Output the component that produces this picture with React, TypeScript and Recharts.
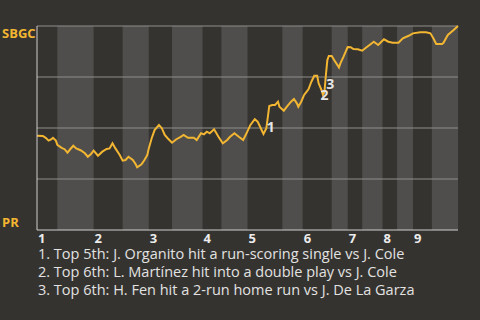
import React from 'react';
import { LineChart, Line, XAxis, YAxis, ReferenceArea, ReferenceLine, ReferenceDot } from 'recharts';

// pitch number in the game and home-side (SBGC) win probability after it
const pitches = [
    0, 4, 6, 8, 10, 11, 13, 14, 17, 19, 21, 23, 25, 27, 30, 33, 35, 37, 39, 42,
    45, 48, 50, 52, 54, 57, 59, 61, 63, 66, 68, 69, 72, 74, 76, 77, 79, 81, 84, 86,
    88, 90, 93, 96, 99, 101, 104, 108, 110, 113, 115, 117, 119, 122, 125, 128, 131, 133, 136, 139,
    142, 144, 147, 150, 152, 154, 156, 158, 160, 162, 164, 166, 167, 170, 172, 175, 177, 179, 180, 182,
    184, 187, 189, 191, 193, 194, 196, 197, 198, 199, 200, 201, 203, 205, 208, 209, 211, 214, 216, 218,
    221, 224, 227, 230, 232, 235, 239, 242, 245, 249, 252, 256, 259, 264, 268, 271, 273, 275, 279, 280,
    283, 287, 290,
];
const winProb = [
    0.462, 0.461, 0.452, 0.438, 0.445, 0.452, 0.438, 0.417, 0.403, 0.396, 0.379, 0.397, 0.413, 0.400, 0.391, 0.376, 0.359, 0.371, 0.389, 0.364,
    0.384, 0.397, 0.400, 0.425, 0.400, 0.368, 0.340, 0.343, 0.359, 0.343, 0.322, 0.307, 0.322, 0.343, 0.368, 0.400, 0.450, 0.490, 0.515, 0.499,
    0.466, 0.450, 0.428, 0.445, 0.457, 0.466, 0.452, 0.452, 0.441, 0.474, 0.469, 0.482, 0.474, 0.494, 0.457, 0.425, 0.441, 0.457, 0.474, 0.457,
    0.441, 0.469, 0.515, 0.543, 0.531, 0.501, 0.471, 0.499, 0.608, 0.613, 0.613, 0.629, 0.604, 0.585, 0.604, 0.629, 0.642, 0.621, 0.604, 0.629,
    0.662, 0.690, 0.727, 0.756, 0.756, 0.719, 0.686, 0.662, 0.676, 0.760, 0.833, 0.853, 0.853, 0.830, 0.797, 0.817, 0.847, 0.897, 0.896, 0.887,
    0.886, 0.879, 0.896, 0.912, 0.923, 0.907, 0.935, 0.923, 0.918, 0.918, 0.940, 0.952, 0.964, 0.969, 0.969, 0.964, 0.940, 0.912, 0.912, 0.918,
    0.956, 0.980, 1.0,
];

// first pitch of each half inning (top 1st, bottom 1st, top 2nd, ...)
const halfInningStarts = [0, 14, 39, 59, 77, 93, 114, 127, 145, 169, 183, 203, 214, 224, 238, 248, 259, 272];
const lastPitch = 290;
const inningLabels = ['1', '2', '3', '4', '5', '6', '7', '8', '9'];

const homeTeam = 'SBGC';
const awayTeam = 'PR';

const keyPlays = [
    { mark: '1', pitch: 161, prob: 0.505 },
    { mark: '2', pitch: 198, prob: 0.66 },
    { mark: '3', pitch: 202, prob: 0.715 },
];
const notes = [
    '1. Top 5th: J. Organito hit a run-scoring single vs J. Cole',
    '2. Top 6th: L. Martínez hit into a double play vs J. Cole',
    '3. Top 6th: H. Fen hit a 2-run home run vs J. De La Garza',
];

const BG = '#35332f';
const BAND = '#4f4e4c';
const LINE = '#f2b632';
const FONT = '"Open Sans", sans-serif';

const data = pitches.map((p, i) => ({ pitch: p, prob: winProb[i] }));

const inningTicks = halfInningStarts.filter((_, i) => i % 2 === 0);
// bottom halves get the lighter band
const bottomHalves = halfInningStarts
    .map((start, i) => ({ start, end: halfInningStarts[i + 1] ?? lastPitch, bottom: i % 2 === 1 }))
    .filter(h => h.bottom);

const InningTick = (props: any) => {
    const { x, y, payload } = props;
    const idx = inningTicks.indexOf(payload.value);
    return (
        <text x={x + 1} y={y + 5} fill="#ececec" fontSize={13} fontWeight={700} fontFamily={FONT} textAnchor="start">
            {inningLabels[idx]}
        </text>
    );
};

const TeamTick = (props: any) => {
    const { y, payload } = props;
    if (payload.value !== 0 && payload.value !== 1) return null;
    const top = payload.value === 1;
    return (
        <text x={2} y={top ? y + 12 : y - 3} fill={LINE} fontSize={13} fontWeight={700} fontFamily={FONT} textAnchor="start">
            {top ? homeTeam : awayTeam}
        </text>
    );
};

export default function App() {
    return (
        <div style={{ position: 'absolute', left: 0, top: 0, width: 480, height: 320, background: BG, fontFamily: FONT }}>
            <LineChart width={480} height={250} data={data} margin={{ top: 26, right: 22, bottom: 0, left: 0 }}>
                {bottomHalves.map(h => (
                    <ReferenceArea key={h.start} x1={h.start} x2={h.end} y1={0} y2={1} fill={BAND} fillOpacity={1} stroke="none" />
                ))}
                {[0.25, 0.5, 0.75, 1].map(v => (
                    <ReferenceLine key={v} y={v} stroke="#8e8e8c" strokeWidth={1} />
                ))}
                <XAxis
                    type="number"
                    dataKey="pitch"
                    domain={[0, lastPitch]}
                    ticks={inningTicks}
                    tick={<InningTick />}
                    tickLine={false}
                    axisLine={{ stroke: '#cfcfcf', strokeWidth: 1 }}
                    height={20}
                    interval={0}
                />
                <YAxis
                    type="number"
                    domain={[0, 1]}
                    ticks={[0, 0.25, 0.5, 0.75, 1]}
                    tick={<TeamTick />}
                    tickLine={false}
                    axisLine={{ stroke: '#cfcfcf', strokeWidth: 1 }}
                    width={37}
                    interval={0}
                />
                <Line
                    type="linear"
                    dataKey="prob"
                    stroke={LINE}
                    strokeWidth={2}
                    dot={false}
                    isAnimationActive={false}
                />
                {keyPlays.map(k => (
                    <ReferenceDot
                        key={k.mark}
                        x={k.pitch}
                        y={k.prob}
                        r={0}
                        stroke="none"
                        label={{ value: k.mark, position: 'center', fill: '#e6e6e6', fontSize: 14, fontWeight: 700, fontFamily: FONT }}
                    />
                ))}
            </LineChart>
            {notes.map((n, i) => (
                <div
                    key={n}
                    style={{
                        position: 'absolute',
                        left: 38,
                        top: 248 + i * 18,
                        color: '#e2e2e2',
                        fontSize: 14.5,
                        lineHeight: '12px',
                        whiteSpace: 'nowrap',
                    }}
                >
                    {n}
                </div>
            ))}
        </div>
    );
}
